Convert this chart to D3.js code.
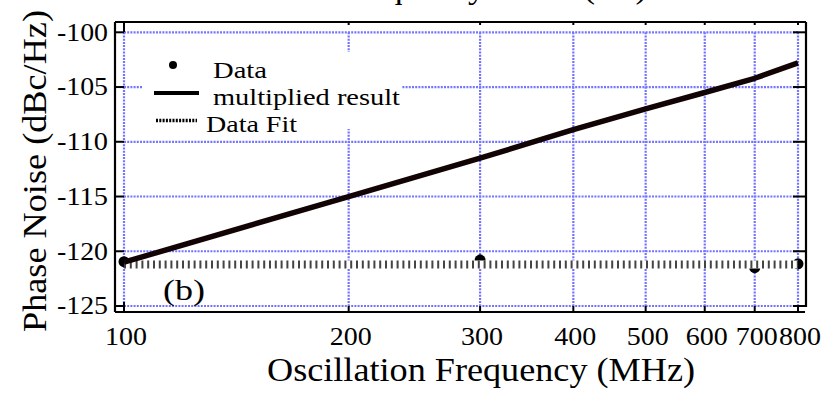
<!DOCTYPE html>
<html>
<head>
<meta charset="utf-8">
<script src="https://cdn.jsdelivr.net/npm/d3@7/dist/d3.min.js"></script>
<style>
  html, body { margin: 0; padding: 0; background: #fff; }
  svg { display: block; }
  text { font-family: 'Liberation Serif', 'Times New Roman', Times, serif; }
</style>
</head>
<body>
<svg id="chart" width="829" height="394"></svg>
<script>
// ---- data ----
const xTicks = [100, 200, 300, 400, 500, 600, 700, 800];
const xTickLabels = ["100", "200", "300", "400", "500", "600", "700", "800"];
const yTicks = [-100, -105, -110, -115, -120, -125];
const yTickLabels = ["-100", "-105", "-110", "-115", "-120", "-125"];

const multFreq = [100, 200, 300, 400, 500, 600, 700, 800];
const multValues = [-121.0, -115.0, -111.5, -108.9, -107.0, -105.5, -104.2, -102.8];

const dataFreq = [100, 300, 700, 800];
const dataValues = [-120.95, -120.8, -121.5, -121.15];

const fitFreq = [100, 800];
const fitValues = [-121.2, -121.2];

const legendLabels = ["Data", "multiplied result", "Data Fit"];
const titleText = "Frequency Noise (dB)";
const xLabel = "Oscillation Frequency (MHz)";
const yLabel = "Phase Noise (dBc/Hz)";
const panelLabel = "(b)";

// ---- layout ----
const FONT = "'Liberation Serif', 'Times New Roman', Times, serif";
const svg = d3.select("#chart").attr("font-family", FONT);
const frame = { left: 115, right: 806, top: 22, bottom: 312 };
const x = d3.scaleLog().domain([100, 800]).range([124, 798]);
const y = d3.scaleLinear().domain([-100, -125]).range([32.3, 306]);
const gridColor = "#7474ff";

function txt(sel, len) {
  sel.attr("font-family", FONT).attr("fill", "#000");
  if (len) sel.attr("textLength", len).attr("lengthAdjust", "spacingAndGlyphs");
  return sel;
}

// title (mostly clipped at the top, as in the reference)
txt(svg.append("text").attr("x", 339).attr("y", -2)
  .attr("font-size", 32).text(titleText), 308);

// grid
const grid = svg.append("g");
grid.selectAll("line.v").data(xTicks).join("line")
  .attr("x1", d => x(d)).attr("x2", d => x(d))
  .attr("y1", y(-100)).attr("y2", y(-125))
  .attr("stroke", gridColor).attr("stroke-width", 2.2).attr("stroke-dasharray", "2,1.2");
grid.selectAll("line.h").data(yTicks).join("line")
  .attr("y1", d => y(d)).attr("y2", d => y(d))
  .attr("x1", x(100)).attr("x2", x(800))
  .attr("stroke", gridColor).attr("stroke-width", 2.2).attr("stroke-dasharray", "2,1.2");

// data markers
svg.append("g").selectAll("circle").data(dataFreq).join("circle")
  .attr("cx", d => x(d)).attr("cy", (d, i) => y(dataValues[i]))
  .attr("r", 5.5).attr("fill", "#000");

// fit line: white band + dark dash pattern
const line = d3.line().x(d => x(d[0])).y(d => y(d[1]));
const fitPts = fitFreq.map((f, i) => [f, fitValues[i]]);
svg.append("path").attr("d", line(fitPts))
  .attr("stroke", "#fff").attr("stroke-width", 8).attr("fill", "none");
svg.append("path").attr("d", line(fitPts))
  .attr("stroke", "#444").attr("stroke-width", 8).attr("fill", "none")
  .attr("stroke-dasharray", "2,3.8");

// multiplied result
const multPts = multFreq.map((f, i) => [f, multValues[i]]);
svg.append("path").attr("d", line(multPts))
  .attr("stroke", "#120404").attr("stroke-width", 5.5).attr("fill", "none")
  .attr("stroke-linejoin", "round");

// frame
const fr = svg.append("g").attr("stroke", "#000").attr("stroke-width", 2.2);
fr.append("line").attr("x1", frame.left).attr("x2", frame.right).attr("y1", frame.top).attr("y2", frame.top);
fr.append("line").attr("x1", frame.left).attr("x2", frame.right - 1).attr("y1", frame.bottom).attr("y2", frame.bottom);
fr.append("line").attr("x1", frame.left).attr("x2", frame.left).attr("y1", frame.top).attr("y2", frame.bottom);
fr.append("line").attr("x1", frame.right).attr("x2", frame.right).attr("y1", frame.top).attr("y2", frame.bottom - 5);

// ticks
const tk = svg.append("g").attr("stroke", "#000").attr("stroke-width", 2);
tk.selectAll("line.l").data(yTicks).join("line")
  .attr("x1", frame.left).attr("x2", frame.left + 9)
  .attr("y1", d => y(d)).attr("y2", d => y(d));
tk.selectAll("line.r").data(yTicks).join("line")
  .attr("x1", frame.right - 13).attr("x2", frame.right)
  .attr("y1", d => y(d)).attr("y2", d => y(d));
tk.selectAll("line.b").data(xTicks).join("line")
  .attr("x1", d => x(d)).attr("x2", d => x(d))
  .attr("y1", (d, i) => i === 0 ? frame.bottom - 10 : frame.bottom - 6).attr("y2", frame.bottom);
tk.selectAll("line.t").data(xTicks).join("line")
  .attr("x1", d => x(d)).attr("x2", d => x(d))
  .attr("y1", frame.top).attr("y2", (d, i) => i === 0 ? frame.top + 10 : frame.top + 3);

// tick labels
txt(svg.append("g").selectAll("text").data(yTicks).join("text")
  .attr("x", 108).attr("y", d => y(d)).attr("dy", "0.34em")
  .attr("text-anchor", "end").attr("font-size", 24.5)
  .text((d, i) => yTickLabels[i]), 51);
txt(svg.append("g").selectAll("text").data(xTicks).join("text")
  .attr("x", d => x(d) + 2).attr("y", 345)
  .attr("text-anchor", "middle").attr("font-size", 24.5)
  .text((d, i) => xTickLabels[i]), 42);

// axis labels
txt(svg.append("text").attr("x", 481).attr("y", 381)
  .attr("text-anchor", "middle").attr("font-size", 33).text(xLabel), 428);
txt(svg.append("text").attr("transform", "translate(46,171) rotate(-90)")
  .attr("text-anchor", "middle").attr("font-size", 33).text(yLabel), 322);

// panel label
txt(svg.append("text").attr("x", 163).attr("y", 300).attr("font-size", 29).text(panelLabel), 42);

// legend
const lg = svg.append("g");
lg.append("rect").attr("x", 142).attr("y", 52).attr("width", 260).attr("height", 77).attr("fill", "#fff");
lg.append("circle").attr("cx", 173).attr("cy", 65).attr("r", 4).attr("fill", "#000");
lg.append("line").attr("x1", 154).attr("x2", 199).attr("y1", 93).attr("y2", 93)
  .attr("stroke", "#000").attr("stroke-width", 4);
lg.append("line").attr("x1", 156).attr("x2", 197).attr("y1", 120.5).attr("y2", 120.5)
  .attr("stroke", "#000").attr("stroke-width", 3.5).attr("stroke-dasharray", "2,1.3");
txt(lg.append("text").attr("x", 213).attr("y", 78).attr("font-size", 24).text(legendLabels[0]), 54);
txt(lg.append("text").attr("x", 213).attr("y", 105).attr("font-size", 24).text(legendLabels[1]), 187);
txt(lg.append("text").attr("x", 206).attr("y", 132).attr("font-size", 24).text(legendLabels[2]), 91);
</script>
</body>
</html>
